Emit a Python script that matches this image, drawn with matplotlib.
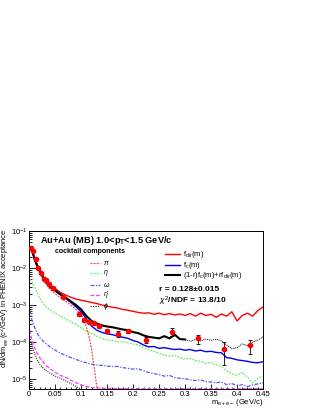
#dielectron mass spectrum Au+Au (MB), 1.0<pT<1.5 GeV/c, with cocktail and fit components

import numpy as np
import matplotlib.pyplot as plt
from matplotlib.ticker import MultipleLocator, LogLocator, NullFormatter, FuncFormatter

plt.rcParams['font.family'] = ['Liberation Sans', 'DejaVu Sans']
plt.rcParams['mathtext.fontset'] = 'custom'
plt.rcParams['mathtext.rm'] = 'Liberation Sans'
plt.rcParams['mathtext.it'] = 'Liberation Sans:italic'
plt.rcParams['mathtext.bf'] = 'Liberation Sans:bold'

# mass grid shared by the curves (GeV/c^2)
m = [0.001, 0.005, 0.01, 0.015, 0.02, 0.03, 0.04, 0.05, 0.06, 0.07, 0.08, 0.09,
     0.10, 0.11, 0.12, 0.13, 0.14, 0.15, 0.16, 0.17, 0.18, 0.19, 0.20, 0.21,
     0.22, 0.23, 0.24, 0.25, 0.26, 0.27, 0.28, 0.29, 0.30, 0.31, 0.32, 0.33,
     0.34, 0.35, 0.36, 0.37, 0.38, 0.39, 0.40, 0.41, 0.42, 0.43, 0.44, 0.45]

# curves, log10 of dN/dm
fdir_log = [-1.45, -1.55, -1.75, -1.90, -2.05, -2.30, -2.47, -2.56, -2.66, -2.73, -2.79, -2.84,
            -2.87, -2.90, -2.93, -2.96, -3.00, -3.03, -3.06, -3.08, -3.12, -3.14, -3.17, -3.20,
            -3.22, -3.21, -3.25, -3.22, -3.26, -3.23, -3.27, -3.24, -3.28, -3.23, -3.30, -3.22,
            -3.28, -3.25, -3.33, -3.24, -3.30, -3.18, -3.43, -3.28, -3.22, -3.30, -3.15, -3.05]
fc_log = [-1.45, -1.50, -1.75, -1.93, -2.07, -2.35, -2.52, -2.62, -2.72, -2.82, -2.93, -3.05,
          -3.18, -3.38, -3.57, -3.68, -3.74, -3.78, -3.80, -3.84, -3.87, -3.90, -3.96, -4.00,
          -4.08, -4.13, -4.12, -4.17, -4.15, -4.18, -4.20, -4.19, -4.22, -4.20, -4.24, -4.22,
          -4.26, -4.25, -4.28, -4.29, -4.42, -4.44, -4.48, -4.50, -4.52, -4.55, -4.56, -4.53]
comb_log = [-1.45, -1.50, -1.75, -1.93, -2.07, -2.34, -2.51, -2.61, -2.71, -2.80, -2.90, -3.00,
            -3.12, -3.30, -3.43, -3.50, -3.55, -3.58, -3.60, -3.63, -3.66, -3.68, -3.73, -3.76,
            -3.82, -3.86, -3.88, -3.90, -3.84, -3.90, -3.80, -3.92, -3.93, -3.98, -3.93, -3.97,
            -3.92, -3.95, -3.92, -3.97, -4.08, -4.18, -4.15, -4.05, -4.10, -4.00, -3.95, -3.86]
eta_log = [-2.30, -2.38, -2.50, -2.65, -2.82, -3.02, -3.13, -3.22, -3.30, -3.38, -3.45, -3.52,
           -3.62, -3.70, -3.77, -3.84, -3.90, -3.94, -3.96, -3.98, -4.00, -4.02, -4.05, -4.08,
           -4.15, -4.20, -4.25, -4.30, -4.35, -4.38, -4.36, -4.42, -4.46, -4.44, -4.50, -4.52,
           -4.57, -4.55, -4.62, -4.66, -4.78, -4.85, -4.90, -4.82, -4.95, -5.10, -4.98, -4.92]
omega_log = [-3.14, -3.40, -3.60, -3.75, -3.88, -4.02, -4.13, -4.22, -4.30, -4.36, -4.42, -4.47,
             -4.52, -4.56, -4.60, -4.62, -4.63, -4.65, -4.66, -4.66, -4.69, -4.71, -4.73, -4.72,
             -4.78, -4.82, -4.85, -4.88, -4.92, -4.90, -4.96, -4.98, -4.99, -5.02, -5.04, -5.02,
             -5.07, -5.08, -5.10, -5.08, -5.15, -5.12, -5.18, -5.15, -5.20, -5.16, -5.13, -5.10]
etap_log = [-3.68, -3.95, -4.15, -4.30, -4.42, -4.60, -4.72, -4.82, -4.90, -4.95, -5.03, -5.10,
            -5.16, -5.20, -5.23, -5.24, -5.25, -5.25, -5.25, -5.26, -5.26, -5.26, -5.26, -5.26,
            -5.26, -5.26, -5.26, -5.26, -5.26, -5.26, -5.26, -5.26, -5.26, -5.26, -5.26, -5.26,
            -5.26, -5.26, -5.26, -5.26, -5.26, -5.26, -5.26, -5.26, -5.26, -5.26, -5.26, -5.26]
phi_m = [0.001, 0.005, 0.01, 0.015, 0.02, 0.03, 0.04, 0.05, 0.06, 0.07, 0.08, 0.09, 0.10, 0.11]
phi_log = [-3.86, -4.10, -4.30, -4.48, -4.60, -4.75, -4.84, -4.92, -4.98, -5.05, -5.12, -5.20, -5.27, -5.33]
pi_m = [0.001, 0.005, 0.01, 0.015, 0.02, 0.03, 0.04, 0.05, 0.06, 0.07, 0.08, 0.09, 0.10,
        0.105, 0.11, 0.115, 0.12, 0.125, 0.13, 0.134]
pi_log = [-1.47, -1.55, -1.80, -1.98, -2.12, -2.38, -2.58, -2.70, -2.80, -2.90, -3.00, -3.12, -3.25,
          -3.40, -3.60, -3.85, -4.20, -4.70, -5.20, -5.60]

# measured points
data_m = [0.0025, 0.0075, 0.0125, 0.0175, 0.0225, 0.0275, 0.0325, 0.0375, 0.045, 0.065, 0.095,
          0.105, 0.115, 0.125, 0.135, 0.15, 0.17, 0.19, 0.225, 0.275, 0.325, 0.375, 0.425]
data_y = [3.4e-2, 2.9e-2, 1.7e-2, 1.0e-2, 7.2e-3, 5.2e-3, 4.7e-3, 3.6e-3, 2.8e-3, 1.6e-3, 5.6e-4,
          3.9e-4, 3.5e-4, 3.2e-4, 2.7e-4, 2.0e-4, 1.65e-4, 2.0e-4, 1.15e-4, 1.9e-4, 1.25e-4, 6.3e-5, 8.3e-5]
data_err = [1e-3, 1e-3, 8e-4, 4e-4, 3e-4, 2e-4, 2e-4, 1.5e-4, 1.2e-4, 8e-5, 4e-5,
            3.5e-5, 3e-5, 3e-5, 2.5e-5, 2.5e-5, 3e-5, 2.5e-5, 2e-5, 4.5e-5, 3.5e-5, 3.9e-5, 3.4e-5]

r_text = 'r = 0.128\u00b10.015'
chi_text = r'$\chi^{2}$/NDF = 13.8/10'

m_arr = np.array(m)
comb = 10**np.array(comb_log)
solid = m_arr <= 0.30
dashed = m_arr >= 0.30

fig = plt.figure(figsize=(3.16, 4.09), dpi=100)
ax = fig.add_axes([0.0927, 0.0489, 0.7396, 0.3863])
ax.set_yscale('log')

# cocktail
ax.plot(pi_m, 10**np.array(pi_log), color='#ff4040', ls=(0, (1.5, 1)), lw=0.9)
ax.plot(m, 10**np.array(eta_log), color='#66ee66', ls=(0, (1.5, 1)), lw=0.9)
ax.plot(m, 10**np.array(omega_log), color='#5555ff', ls=(0, (3, 1.2, 1, 1.2)), lw=0.9)
ax.plot(m, 10**np.array(etap_log), color='#ff33ff', ls=(0, (3, 1.5)), lw=0.9)
ax.plot(phi_m, 10**np.array(phi_log), color='#333333', ls=(0, (1, 1)), lw=0.8)

# fit components
ax.plot(m, 10**np.array(fdir_log), color='red', lw=1.0)
ax.plot(m, 10**np.array(fc_log), color='blue', lw=1.0)
ax.plot(m_arr[solid], comb[solid], color='black', lw=1.5)
ax.plot(m_arr[dashed], comb[dashed], color='black', ls=(0, (1, 1)), lw=0.7)

ax.errorbar(data_m, data_y, yerr=data_err, fmt='o', color='red', ms=3, mec='red',
            ecolor='black', elinewidth=0.6, capsize=1.2, capthick=0.6, zorder=5)

ax.set_xlim(0, 0.45)
ax.set_ylim(5.4e-6, 0.1)

ax.xaxis.set_major_locator(MultipleLocator(0.05))
ax.xaxis.set_minor_locator(MultipleLocator(0.01))
ax.xaxis.set_major_formatter(FuncFormatter(lambda v, p: '%g' % round(v, 3)))
ax.yaxis.set_major_locator(LogLocator(base=10, numticks=10))
ax.yaxis.set_minor_locator(LogLocator(base=10, subs=np.arange(2, 10), numticks=20))
ax.yaxis.set_minor_formatter(NullFormatter())
ax.tick_params(which='both', direction='in', top=False, right=False, labelsize=5.5, pad=1.2, width=0.6)
ax.tick_params(axis='x', which='major', length=3.4)
ax.tick_params(axis='x', which='minor', length=1.7)
ax.tick_params(axis='y', which='major', length=5)
ax.tick_params(axis='y', which='minor', length=2.5)
for s in ax.spines.values():
    s.set_linewidth(0.7)

# texts
ax.text(0.046, 0.943, r'Au+Au (MB) 1.0<p$_{\mathbf{T}}$<1.5 GeV/c', transform=ax.transAxes,
        fontsize=6.7, fontweight='bold', va='center', ha='left')
ax.text(0.26, 0.87, 'cocktail components', transform=ax.transAxes,
        fontsize=5, fontweight='bold', va='center', ha='center')

cocktail_labels = [r'$\pi$', r'$\eta$', r'$\omega$', r"$\eta$'", r'$\phi$']
cocktail_styles = [('#ff4040', (0, (1.5, 1))), ('#66ee66', (0, (1.5, 1))),
                   ('#5555ff', (0, (3, 1.2, 1, 1.2))), ('#ff33ff', (0, (3, 1.5))),
                   ('#333333', (0, (1, 1)))]
cocktail_y = [0.80, 0.732, 0.658, 0.595, 0.525]
for lab, (c, ls), yy in zip(cocktail_labels, cocktail_styles, cocktail_y):
    ax.plot([0.26, 0.303], [yy, yy], color=c, ls=ls, lw=0.9, transform=ax.transAxes)
    ax.text(0.316, yy, lab, transform=ax.transAxes, fontsize=5, va='center', ha='left')

fit_labels = [r'f$_{\rm dir}$(m)', r'f$_{\rm c}$(m)', r'(1-r)f$_{\rm c}$(m)+rf$_{\rm dir}$(m)']
fit_colors = ['red', 'blue', 'black']
fit_widths = [1.0, 1.0, 1.5]
fit_y = [0.852, 0.784, 0.719]
for lab, c, w, yy in zip(fit_labels, fit_colors, fit_widths, fit_y):
    ax.plot([0.58, 0.645], [yy, yy], color=c, lw=w, transform=ax.transAxes)
    ax.text(0.658, yy, lab, transform=ax.transAxes, fontsize=5.5, va='center', ha='left')

ax.text(0.556, 0.627, r_text, transform=ax.transAxes, fontsize=6, fontweight='bold', va='center', ha='left')
ax.text(0.556, 0.553, chi_text, transform=ax.transAxes, fontsize=6, fontweight='bold', va='center', ha='left')

fig.text(0.017, 0.44, r'dN/dm$_{\rm ee}$ (c$^{2}$/GeV) in PHENIX acceptance', rotation=90,
         fontsize=5.4, va='top', ha='center')
fig.text(0.832, 0.015, r'm$_{\rm e+e-}$ (GeV/c)', fontsize=5.5, va='center', ha='right')

fig.savefig('out.png', dpi=100)
